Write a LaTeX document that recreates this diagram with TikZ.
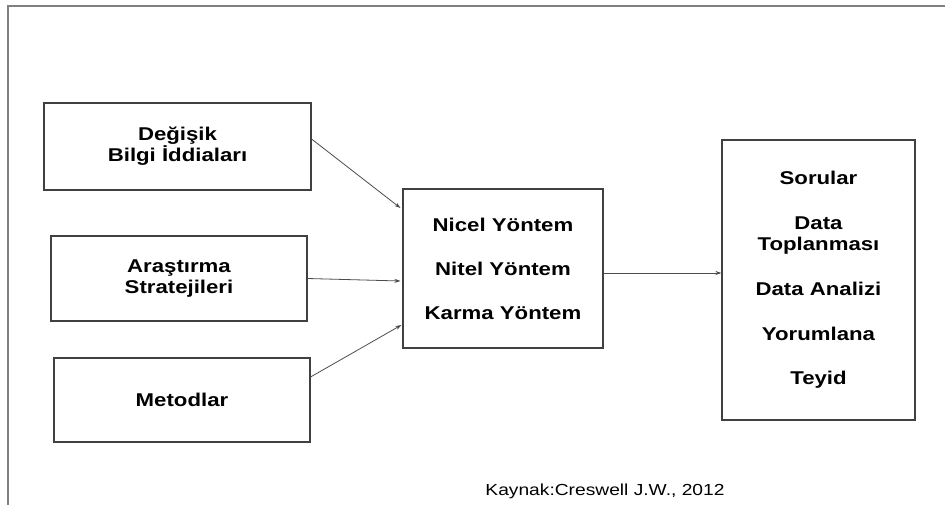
\documentclass[tikz,border=0pt]{standalone}
\usepackage{fontspec}
\setmainfont{Liberation Sans}[FakeStretch=1.2]
\usetikzlibrary{arrows.meta}
\begin{document}
\begin{tikzpicture}[x=1pt,y=-1pt,
  box/.style={draw=black!75,line width=1.1pt,rectangle,inner sep=0pt,align=center,
    font=\fontsize{18.5}{21}\selectfont\bfseries},
  conn/.style={draw=black!70,line width=0.8pt,-{Stealth[length=6pt,width=4pt]}},
  frame/.style={draw=black!50,line width=2pt}]
\useasboundingbox (0,0) rectangle (945,505);
\fill[white] (0,0) rectangle (945,505);
\coordinate (fa) at (945,6);
\coordinate (fb) at (8,6);
\coordinate (fc) at (8,505);
\draw[frame] (fa) -- (fb) -- (fc);
\node[box,minimum width=267pt,minimum height=87pt] (b1) at (177.5,146.5) {Değişik\\Bilgi İddiaları};
\node[box,minimum width=256pt,minimum height=85pt] (b2) at (179,278.5) {Araştırma\\Stratejileri};
\node[box,minimum width=256pt,minimum height=84pt] (b3) at (182,400) {Metodlar};
\node[box,minimum width=200pt,minimum height=159pt] (m) at (503,268.5) {Nicel Yöntem\\[23pt]Nitel Yöntem\\[23pt]Karma Yöntem};
\node[box,minimum width=193pt,minimum height=280pt] (r) at (818.5,280) {Sorular\\[24pt]Data\\Toplanması\\[24pt]Data Analizi\\[24pt]Yorumlana\\[23pt]Teyid};
\node[anchor=base,font=\fontsize{16}{19}\selectfont] (src) at (605,495) {Kaynak:Creswell J.W., 2012};
\draw[conn] ([yshift=7.5pt]b1.east) -- ([yshift=60.5pt,xshift=-2pt]m.west);
\draw[conn] (b2.east) -- ([yshift=-12.5pt,xshift=-2pt]m.west);
\draw[conn] ([yshift=23pt]b3.east) -- ([yshift=-56.5pt,xshift=-1pt]m.west);
\draw[conn] ([yshift=-4.5pt]m.east) -- ([yshift=7pt]r.west);
\end{tikzpicture}
\end{document}
